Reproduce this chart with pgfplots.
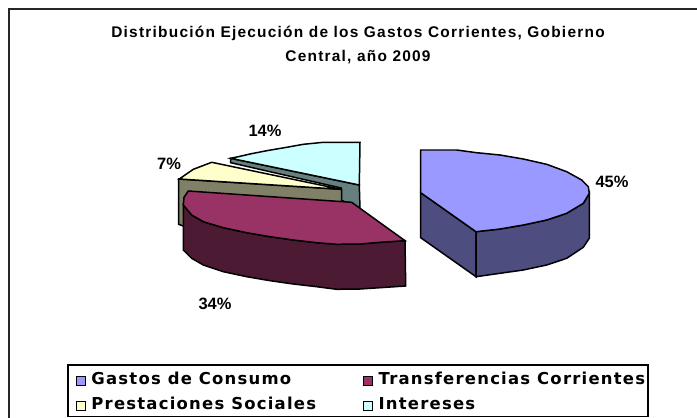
\documentclass[border=0pt]{standalone}
\usepackage{pgfplots}
\pgfplotsset{compat=1.18}
\usepackage{fontspec}
\setmainfont{Liberation Sans}
\newfontfamily\titlefont[LetterSpace=8]{Liberation Sans}
\newfontfamily\legfont[LetterSpace=7.5]{DejaVu Sans}
\definecolor{cBlue}{HTML}{9999FF}\definecolor{cBlueS}{HTML}{4D4D80}
\definecolor{cMar}{HTML}{993366}\definecolor{cMarS}{HTML}{4D1A33}
\definecolor{cYel}{HTML}{FFFFCC}\definecolor{cYelS}{HTML}{808066}
\definecolor{cCya}{HTML}{CCFFFF}\definecolor{cCyaS}{HTML}{668080}
\newcommand{\cola}[1]{\makebox[263.5bp][l]{#1}}
\begin{document}
\begin{tikzpicture}
\begin{axis}[
  scale only axis, width=697bp, height=418bp,
  xmin=0, xmax=697, ymin=0, ymax=418, y dir=reverse,
  axis lines=none, clip=true,
  legend columns=2,
  legend cell align=left,
  legend style={at={(axis cs:68,368)}, anchor=north west, draw=none, fill=none,
    font=\legfont\bfseries\fontsize{16.5}{18}\selectfont, inner xsep=1bp, inner ysep=2bp,
    row sep=3bp,
    nodes={inner sep=1.5bp, text height=13bp, text depth=6bp}},
  legend image code/.code={\path[draw=none,fill=none] (-6.7bp,-1bp) rectangle (14bp,1bp);\draw[#1,draw=black,line width=0.8pt] (0bp,-4.5bp) rectangle (9bp,4.5bp);},
]
\addlegendimage{fill=cBlue}\addlegendentry{\cola{Gastos de Consumo}}
\addlegendimage{fill=cMar}\addlegendentry{Transferencias Corrientes}
\addlegendimage{fill=cYel}\addlegendentry{\cola{Prestaciones Sociales}}
\addlegendimage{fill=cCya}\addlegendentry{Intereses}
% Intereses
\addplot[forget plot, fill=cCyaS, draw=black, line width=1.5pt] coordinates {(230.7,158.3)(359.3,185)(360,209)(341,200)(341,188)(230.7,162.7)} --cycle;
\addplot[forget plot, fill=cCya, draw=black, line width=1.5pt] coordinates {(360,142.3)(323.3,142.3)(303.3,144.3)(286.7,147.3)(266.7,150.7)(250,154)(238.3,156.7)(230.7,158.3)(359.3,185)} --cycle;
% Prestaciones
\addplot[forget plot, fill=cYelS, draw=black, line width=1.5pt] coordinates {(178.7,179)(341.5,189.3)(341.5,203)(220,240)(178.7,224.3)} --cycle;
\addplot[forget plot, fill=cYel, draw=black, line width=1.5pt] coordinates {(179.3,179)(193.3,169.3)(211.7,162.3)(341,189.3)} --cycle;
% Transferencias
\addplot[forget plot, fill=cMarS, draw=black, line width=1.5pt] coordinates {(405,240.7)(380,242.3)(360,244)(336.7,244.3)(316.7,242.7)(293.3,240)(270,236.7)(246.7,232.7)(223.3,227.7)(203.3,221.7)(191.7,215)(183.3,205)(183.3,250)(191.7,258.3)(203.3,265)(223.3,271.7)(246.7,276.7)(270,280.7)(293.3,284)(316.7,286.7)(336.7,289.3)(360,289)(380,287.7)(405.7,286)} --cycle;
\addplot[forget plot, fill=cMar, draw=black, line width=1.5pt] coordinates {(351.7,202.3)(405,240.7)(380,242.3)(360,244)(336.7,244.3)(316.7,242.7)(293.3,240)(270,236.7)(246.7,232.7)(223.3,227.7)(203.3,221.7)(191.7,215)(183.3,205)(184,197.3)(188.3,191)} --cycle;
% Gastos de Consumo
\addplot[forget plot, fill=cBlueS, draw=black, line width=1.5pt] coordinates {(420.7,192.7)(476,231.7)(476,276.7)(420.7,237.7)} --cycle;
\addplot[forget plot, fill=cBlueS, draw=black, line width=1.5pt] coordinates {(476,231.7)(500,229)(523.3,225)(546.7,220)(566.7,213.3)(583.3,203.3)(589.3,193.3)(589.3,238.3)(583.3,247.3)(566.7,258.3)(546.7,265)(523.3,270)(500,273.3)(476,276.7)} --cycle;
\addplot[forget plot, fill=cBlue, draw=black, line width=1.5pt] coordinates {(420.7,150)(456.7,150)(476.7,152.7)(500,155)(523.3,159)(546.7,164.3)(566.7,171.7)(581.7,180)(588.3,186.7)(589.3,193.3)(583.3,203.3)(566.7,213.3)(546.7,220)(523.3,225)(500,229)(476,231.7)(420.7,192.7)} --cycle;
% frame and legend box
\draw[black!85, line width=2bp] (axis cs:9.3,418) -- (axis cs:9.3,9.3) -- (axis cs:697,9.3);
\draw[black, line width=1.4bp] (axis cs:68,365) rectangle (axis cs:648,416.3);
% title and labels
\node[font=\titlefont\bfseries\fontsize{15.5}{18}\selectfont] at (axis cs:358,33) {Distribución Ejecución de los Gastos Corrientes, Gobierno};
\node[font=\titlefont\bfseries\fontsize{15.5}{18}\selectfont] at (axis cs:358,57) {Central, año 2009};
\node[font=\bfseries\fontsize{16.5}{18}\selectfont] at (axis cs:265,131) {14\%};
\node[font=\bfseries\fontsize{16.5}{18}\selectfont] at (axis cs:169,164) {7\%};
\node[font=\bfseries\fontsize{16.5}{18}\selectfont] at (axis cs:215,304) {34\%};
\node[font=\bfseries\fontsize{16.5}{18}\selectfont] at (axis cs:612,182) {45\%};
\end{axis}
\pgfresetboundingbox
\path[use as bounding box] (0,0) rectangle (697bp,418bp);
\end{tikzpicture}
\end{document}
